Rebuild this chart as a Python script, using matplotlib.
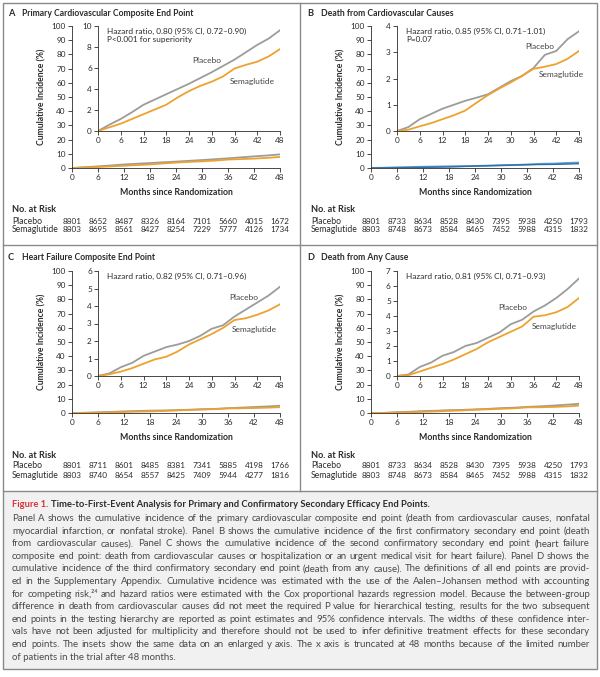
import numpy as np
import matplotlib.pyplot as plt
from matplotlib.patches import Rectangle
from matplotlib.lines import Line2D
from matplotlib.transforms import blended_transform_factory

plt.rcParams['font.family'] = ['Lato', 'DejaVu Sans']

W, H = 600, 677

# cumulative incidence (%), every 3 months
months = [0, 3, 6, 9, 12, 15, 18, 21, 24, 27, 30, 33, 36, 39, 42, 45, 48]
placebo_a = [0, 0.6, 1.15, 1.8, 2.5, 3.0, 3.5, 4.0, 4.5, 5.05, 5.6, 6.2, 6.8, 7.5, 8.2, 8.8, 9.6]
sema_a = [0, 0.35, 0.7, 1.15, 1.6, 2.05, 2.5, 3.2, 3.8, 4.3, 4.7, 5.2, 5.95, 6.3, 6.6, 7.1, 7.8]
placebo_b = [0, 0.15, 0.45, 0.65, 0.85, 1.0, 1.15, 1.27, 1.4, 1.65, 1.9, 2.1, 2.4, 2.9, 3.05, 3.5, 3.8]
sema_b = [0, 0.05, 0.18, 0.3, 0.45, 0.6, 0.78, 1.08, 1.37, 1.62, 1.85, 2.1, 2.37, 2.45, 2.55, 2.75, 3.05]
placebo_c = [0, 0.15, 0.5, 0.75, 1.15, 1.4, 1.65, 1.8, 2.0, 2.3, 2.7, 2.9, 3.4, 3.8, 4.2, 4.6, 5.1]
sema_c = [0, 0.1, 0.25, 0.45, 0.7, 0.95, 1.1, 1.4, 1.8, 2.1, 2.4, 2.75, 3.2, 3.3, 3.5, 3.75, 4.1]
placebo_d = [0, 0.1, 0.6, 0.9, 1.35, 1.6, 2.0, 2.2, 2.55, 2.9, 3.45, 3.75, 4.3, 4.7, 5.2, 5.8, 6.5]
sema_d = [0, 0.05, 0.3, 0.55, 0.8, 1.1, 1.45, 1.8, 2.25, 2.6, 2.95, 3.3, 3.95, 4.05, 4.25, 4.6, 5.2]

risk_months = [0, 6, 12, 18, 24, 30, 36, 42, 48]
risk_placebo_a = [8801, 8652, 8487, 8326, 8164, 7101, 5660, 4015, 1672]
risk_sema_a = [8803, 8695, 8561, 8427, 8254, 7229, 5777, 4126, 1734]
risk_placebo_b = [8801, 8733, 8634, 8528, 8430, 7395, 5938, 4250, 1793]
risk_sema_b = [8803, 8748, 8673, 8584, 8465, 7452, 5988, 4315, 1832]
risk_placebo_c = [8801, 8711, 8601, 8485, 8381, 7341, 5885, 4198, 1766]
risk_sema_c = [8803, 8740, 8654, 8557, 8425, 7409, 5944, 4277, 1816]
risk_placebo_d = [8801, 8733, 8634, 8528, 8430, 7395, 5938, 4250, 1793]
risk_sema_d = [8803, 8748, 8673, 8584, 8465, 7452, 5988, 4315, 1832]

panels = [
    dict(letter='A', title='Primary Cardiovascular Composite End Point',
         pla=placebo_a, sem=sema_a, rp=risk_placebo_a, rs=risk_sema_a,
         ymax=10, ystep=2, hr='Hazard ratio, 0.80 (95% CI, 0.72\u20130.90)\nP<0.001 for superiority',
         pla_lab=(24.8, 6.7), sem_lab=(34.8, 4.7), dx=0, dy=0, blue=False),
    dict(letter='B', title='Death from Cardiovascular Causes',
         pla=placebo_b, sem=sema_b, rp=risk_placebo_b, rs=risk_sema_b,
         ymax=4, ystep=1, hr='Hazard ratio, 0.85 (95% CI, 0.71\u20131.01)\nP=0.07',
         pla_lab=(33.9, 3.22), sem_lab=(37.4, 2.17), dx=299, dy=0, blue=True),
    dict(letter='C', title='Heart Failure Composite End Point',
         pla=placebo_c, sem=sema_c, rp=risk_placebo_c, rs=risk_sema_c,
         ymax=6, ystep=1, hr='Hazard ratio, 0.82 (95% CI, 0.71\u20130.96)',
         pla_lab=(34.5, 4.5), sem_lab=(35.3, 2.63), dx=0, dy=245, blue=False),
    dict(letter='D', title='Death from Any Cause',
         pla=placebo_d, sem=sema_d, rp=risk_placebo_d, rs=risk_sema_d,
         ymax=7, ystep=1, hr='Hazard ratio, 0.81 (95% CI, 0.71\u20130.93)',
         pla_lab=(26.8, 4.55), sem_lab=(35.5, 3.33), dx=299, dy=245, blue=False),
]

GRAY = '#9c9c9c'
ORANGE = '#eea22e'
INK = '#2b2b2b'
FRAME = '#8a8a8a'

fig = plt.figure(figsize=(W / 100, H / 100), dpi=100)
fig.patch.set_facecolor('white')
renderer = fig.canvas.get_renderer()


def fx(x):
    return x / W


def fy(y):
    return 1 - y / H


def size_for(text, width_px, **kw):
    # font size that makes `text` about width_px wide
    t = fig.text(0, 0, text, fontsize=10, **kw)
    w = t.get_window_extent(renderer).width
    t.remove()
    return 10 * width_px / w


# font sizes matched to the reference
FS_TITLE = size_for('Primary Cardiovascular Composite End Point', 173, fontweight='bold')
FS_HR = size_for('Hazard ratio, 0.80 (95% CI, 0.72\u20130.90)', 138)
FS_XLAB = size_for('Months since Randomization', 113, fontweight='bold')
FS_YLAB = size_for('Cumulative Incidence (%)', 97, fontweight='bold')
FS_RISKHEAD = size_for('No. at Risk', 44, fontweight='bold')
FS_RISK = 6.2
FS_NUM = 5.9
FS_LAB = size_for('Semaglutide', 45)
FS_TICK = 5.9
FS_CAPT = size_for('Figure 1. Time-to-First-Event Analysis for Primary and Confirmatory '
                   'Secondary Efficacy End Points.', 418, fontweight='bold')
FS_BODY = size_for('composite end point: death from cardiovascular causes or hospitalization '
                   'or an urgent medical visit for heart failure). Panel D shows the', 572)


def px_axes(l, t, r, b):
    return fig.add_axes([fx(l), fy(b), (r - l) / W, (b - t) / H])


def style(ax):
    for s in ['top', 'right']:
        ax.spines[s].set_visible(False)
    for s in ['left', 'bottom']:
        ax.spines[s].set_color(INK)
        ax.spines[s].set_linewidth(0.6)
    ax.tick_params(direction='out', length=3, width=0.6, color=INK,
                   labelsize=FS_TICK, labelcolor=INK, pad=1.5)
    ax.patch.set_alpha(0)


# background, caption box and frame
fig.add_artist(Rectangle((fx(3), fy(669)), fx(594), (669 - 491) / H,
                         transform=fig.transFigure, facecolor='#f1f1f1',
                         edgecolor='none', zorder=0))
fig.add_artist(Rectangle((fx(3), fy(669)), fx(594), (669 - 3) / H,
                         transform=fig.transFigure, facecolor='none',
                         edgecolor=FRAME, linewidth=1.0, zorder=5))
fig.add_artist(Line2D([fx(3), fx(597)], [fy(491), fy(491)], color=FRAME, lw=1.0))
fig.add_artist(Line2D([fx(3), fx(597)], [fy(245), fy(245)], color=FRAME, lw=1.0))
fig.add_artist(Line2D([fx(299.5), fx(299.5)], [fy(3), fy(491)], color=FRAME, lw=1.0))

for p in panels:
    dx, dy = p['dx'], p['dy']

    # main axes, 0-100 %
    ax = px_axes(72 + dx, 26 + dy, 280 + dx, 168 + dy)
    style(ax)
    if p['blue']:
        ax.plot(months, p['pla'], color='#5b9fd3', lw=1.4)
        ax.plot(months, p['sem'], color='#2f6ea6', lw=1.0)
    else:
        ax.plot(months, p['pla'], color=GRAY, lw=1.3)
        ax.plot(months, p['sem'], color=ORANGE, lw=1.3)
    ax.set_xlim(0, 48)
    ax.set_ylim(0, 100)
    ax.set_xticks(risk_months)
    ax.set_yticks(np.arange(0, 101, 10))

    # inset with enlarged y axis
    ins = px_axes(98 + dx, 26 + dy, 280 + dx, 131 + dy)
    style(ins)
    ins.plot(months, p['pla'], color=GRAY, lw=1.3)
    ins.plot(months, p['sem'], color=ORANGE, lw=1.3)
    ins.set_xlim(0, 48)
    ins.set_ylim(0, p['ymax'])
    ins.set_xticks(risk_months)
    ins.set_yticks(np.arange(0, p['ymax'] + 0.01, p['ystep']))
    ins.yaxis.set_major_formatter(plt.FuncFormatter(lambda v, _: '%d' % v))
    ins.text(0.05, 0.985, p['hr'], transform=ins.transAxes, va='top', ha='left',
             fontsize=FS_HR, color=INK, linespacing=1.15)
    ins.text(*p['pla_lab'], 'Placebo', fontsize=FS_LAB, color='#444444', va='center')
    ins.text(*p['sem_lab'], 'Semaglutide', fontsize=FS_LAB, color='#444444', va='center')

    # titles and labels
    fig.text(fx(8 + dx), fy(13 + dy), p['letter'], fontsize=FS_TITLE + 0.4,
             fontweight='bold', color=INK, va='center')
    fig.text(fx(22 + dx), fy(13 + dy), p['title'], fontsize=FS_TITLE, fontweight='bold',
             color=INK, va='center')
    fig.text(fx(42 + dx), fy(97 + dy), 'Cumulative Incidence (%)', rotation=90,
             fontsize=FS_YLAB, fontweight='bold', color=INK, ha='center', va='center')
    fig.text(fx(176 + dx), fy(193 + dy), 'Months since Randomization', fontsize=FS_XLAB,
             fontweight='bold', color=INK, ha='center', va='center')

    # number at risk
    fig.text(fx(12 + dx), fy(210 + dy), 'No. at Risk', fontsize=FS_RISKHEAD,
             fontweight='bold', color=INK, va='center')
    fig.text(fx(12 + dx), fy(221 + dy), 'Placebo', fontsize=FS_RISK, color=INK, va='center')
    fig.text(fx(12 + dx), fy(230 + dy), 'Semaglutide', fontsize=FS_RISK, color=INK,
             va='center')
    tr = blended_transform_factory(ax.transData, fig.transFigure)
    for m, a, b in zip(risk_months, p['rp'], p['rs']):
        ax.text(m, fy(221 + dy), str(a), transform=tr, ha='center', va='center',
                fontsize=FS_NUM, color=INK)
        ax.text(m, fy(230 + dy), str(b), transform=tr, ha='center', va='center',
                fontsize=FS_NUM, color=INK)

# caption
t1 = fig.text(fx(12), fy(507), 'Figure 1.', fontsize=FS_CAPT, fontweight='bold',
              color='#d6333b', va='baseline')
w1 = t1.get_window_extent(renderer).width
fig.text(fx(12) + (w1 + 2.5) / W, fy(507),
         'Time-to-First-Event Analysis for Primary and Confirmatory Secondary Efficacy End Points.',
         fontsize=FS_CAPT, fontweight='bold', color=INK, va='baseline')

caption = [
    'Panel A shows the cumulative incidence of the primary cardiovascular composite end point (death from cardiovascular causes, nonfatal',
    'myocardial infarction, or nonfatal stroke). Panel B shows the cumulative incidence of the first confirmatory secondary end point (death',
    'from cardiovascular causes). Panel C shows the cumulative incidence of the second confirmatory secondary end point (heart failure',
    'composite end point: death from cardiovascular causes or hospitalization or an urgent medical visit for heart failure). Panel D shows the',
    'cumulative incidence of the third confirmatory secondary end point (death from any cause). The definitions of all end points are provid-',
    'ed in the Supplementary Appendix. Cumulative incidence was estimated with the use of the Aalen\u2013Johansen method with accounting',
    'for competing risk,\u00b2\u2074 and hazard ratios were estimated with the Cox proportional hazards regression model. Because the between-group',
    'difference in death from cardiovascular causes did not meet the required P value for hierarchical testing, results for the two subsequent',
    'end points in the testing hierarchy are reported as point estimates and 95% confidence intervals. The widths of these confidence inter-',
    'vals have not been adjusted for multiplicity and therefore should not be used to infer definitive treatment effects for these secondary',
    'end points. The insets show the same data on an enlarged y axis. The x axis is truncated at 48 months because of the limited number',
    'of patients in the trial after 48 months.',
]

x0, x1 = 12, 590
for i, line in enumerate(caption):
    y = fy(521 + i * 12.6)
    kw = dict(fontsize=FS_BODY, color='#4a4a4a', va='baseline')
    if i == len(caption) - 1:
        fig.text(fx(x0), y, line, **kw)
        continue
    words = line.split(' ')
    widths = []
    for w in words:
        t = fig.text(0, 0, w, **kw)
        widths.append(t.get_window_extent(renderer).width)
        t.remove()
    gap = (x1 - x0 - sum(widths)) / (len(words) - 1)
    x = x0
    for w, wd in zip(words, widths):
        fig.text(fx(x), y, w, **kw)
        x += wd + gap

fig.savefig('out.png', dpi=100)
